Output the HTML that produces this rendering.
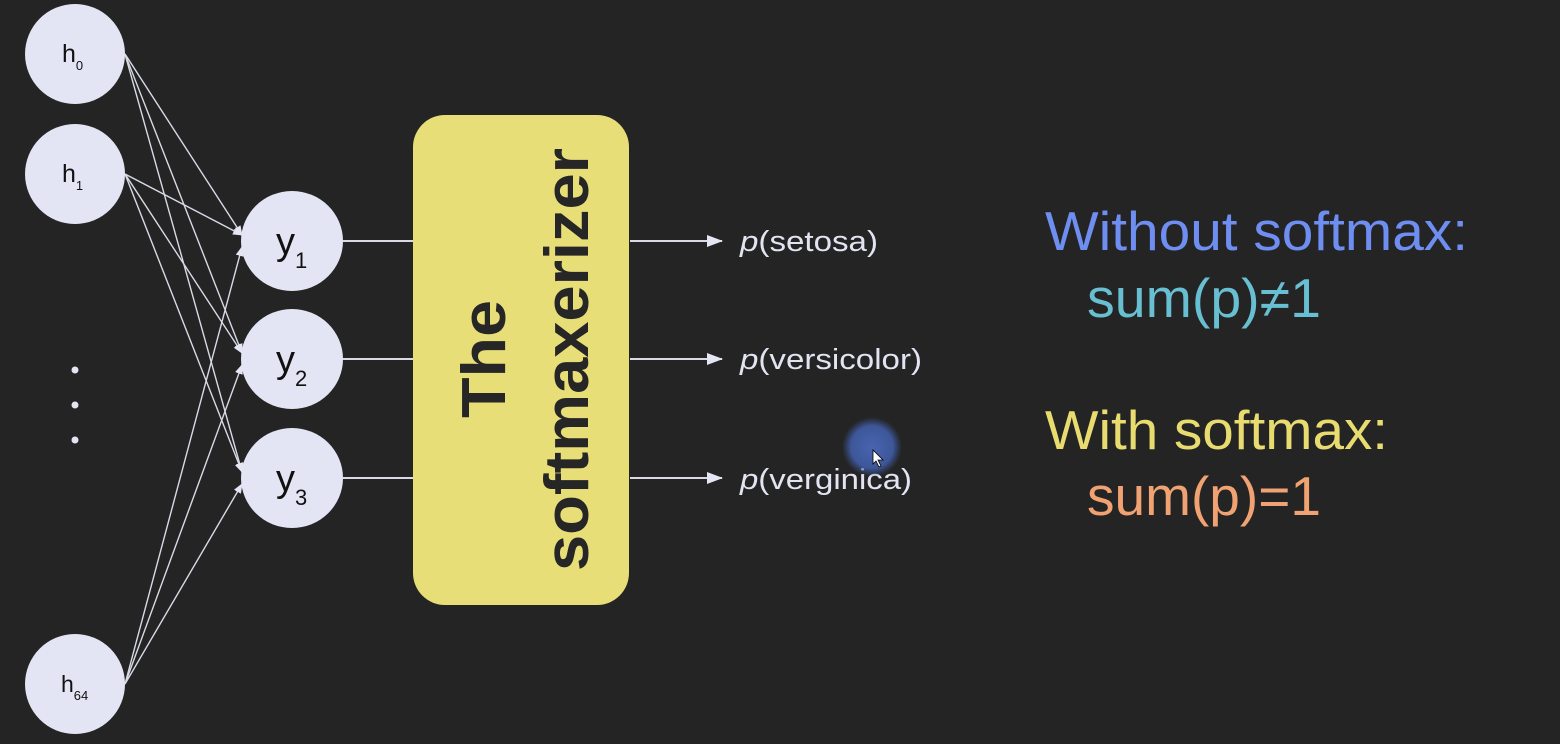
<!DOCTYPE html>
<html><head><meta charset="utf-8"><style>
html,body{margin:0;padding:0;background:#242424;}
svg{display:block;}
text{font-family:"Liberation Sans",sans-serif;}
</style></head><body>
<svg width="1560" height="744" viewBox="0 0 1560 744">
<defs>
<marker id="ah" markerWidth="10" markerHeight="8" refX="9" refY="4" orient="auto" markerUnits="userSpaceOnUse">
<path d="M0,0 L10,4 L0,8 z" fill="#e4e6f4"/></marker>
<marker id="ah2" markerWidth="16" markerHeight="12" refX="15" refY="6" orient="auto" markerUnits="userSpaceOnUse">
<path d="M0,0 L16,6 L0,12 z" fill="#e4e6f4"/></marker>
<radialGradient id="cur"><stop offset="0" stop-color="#4a68b8" stop-opacity="0.95"/><stop offset="0.7" stop-color="#4260ae" stop-opacity="0.85"/><stop offset="1" stop-color="#3a58a0" stop-opacity="0"/></radialGradient>
</defs>
<g id="edges"></g>
<g>
<ellipse cx="75" cy="54" rx="50" ry="50" fill="#e3e5f4"/>
<text x="62" y="62" font-size="25" fill="#111">h<tspan font-size="13" dy="8">0</tspan></text>
<ellipse cx="75" cy="174" rx="50" ry="50" fill="#e3e5f4"/>
<text x="62" y="182" font-size="25" fill="#111">h<tspan font-size="13" dy="8">1</tspan></text>
<ellipse cx="75" cy="684" rx="50" ry="50" fill="#e3e5f4"/>
<text x="61" y="692" font-size="23" fill="#111">h<tspan font-size="13" dy="8">64</tspan></text>
<circle cx="75" cy="370" r="3.5" fill="#e3e5f4"/>
<circle cx="75" cy="405" r="3.5" fill="#e3e5f4"/>
<circle cx="75" cy="440" r="3.5" fill="#e3e5f4"/>
</g>
<g>
<ellipse cx="292" cy="241" rx="51" ry="50" fill="#e3e5f4"/>
<text x="276" y="254" font-size="38" fill="#111">y<tspan font-size="22" dy="14">1</tspan></text>
<ellipse cx="292" cy="359" rx="51" ry="50" fill="#e3e5f4"/>
<text x="276" y="372" font-size="38" fill="#111">y<tspan font-size="22" dy="14">2</tspan></text>
<ellipse cx="292" cy="478" rx="51" ry="50" fill="#e3e5f4"/>
<text x="276" y="491" font-size="38" fill="#111">y<tspan font-size="22" dy="14">3</tspan></text>
</g>
<g stroke="#d8dae6" stroke-width="2">
<line x1="343" y1="241" x2="413" y2="241"/><line x1="343" y1="359" x2="413" y2="359"/><line x1="343" y1="478" x2="413" y2="478"/>
</g>
<rect x="413" y="115" width="216" height="490" rx="32" fill="#e8de78"/>
<text transform="translate(505,418) rotate(-90)" font-size="62" font-weight="bold" fill="#262626" textLength="118" lengthAdjust="spacingAndGlyphs">The</text>
<text transform="translate(588,571) rotate(-90)" font-size="62" font-weight="bold" fill="#262626" textLength="423" lengthAdjust="spacingAndGlyphs">softmaxerizer</text>
<g stroke="#d8dae6" stroke-width="2">
<line x1="630" y1="241" x2="722" y2="241" marker-end="url(#ah2)"/>
<line x1="630" y1="359" x2="722" y2="359" marker-end="url(#ah2)"/>
<line x1="630" y1="478" x2="722" y2="478" marker-end="url(#ah2)"/>
</g>
<g font-size="29" fill="#e2e4f2">
<text x="740" y="251" textLength="138" lengthAdjust="spacingAndGlyphs"><tspan font-style="italic">p</tspan>(setosa)</text>
<text x="740" y="369" textLength="182" lengthAdjust="spacingAndGlyphs"><tspan font-style="italic">p</tspan>(versicolor)</text>
<text x="740" y="489" textLength="172" lengthAdjust="spacingAndGlyphs"><tspan font-style="italic">p</tspan>(verginica)</text>
</g>
<circle cx="872" cy="447" r="30" fill="url(#cur)"/>
<path d="M873,450 L873,464 L876,461 L879,467 L881,466 L878,460 L883,460 z" fill="#fff" stroke="#000" stroke-width="0.8"/>
<text x="1045" y="250" font-size="55" fill="#6f8ef2" textLength="423" lengthAdjust="spacingAndGlyphs">Without softmax:</text>
<text x="1087" y="317" font-size="55" fill="#68bfd2" textLength="234" lengthAdjust="spacingAndGlyphs">sum(p)≠1</text>
<text x="1045" y="449" font-size="55" fill="#e8dc70" textLength="343" lengthAdjust="spacingAndGlyphs">With softmax:</text>
<text x="1087" y="515" font-size="55" fill="#f0a272" textLength="234" lengthAdjust="spacingAndGlyphs">sum(p)=1</text>
</svg>
<script>
const hY=[54,174,684];
const yY=[241,359,478];
const g=document.getElementById('edges');
hY.forEach(function(hy){
  yY.forEach(function(yy,j){
    const l=document.createElementNS('http://www.w3.org/2000/svg','line');
    
    
    l.setAttribute('x1',125);l.setAttribute('y1',hy);
    l.setAttribute('x2',242);l.setAttribute('y2',yy+(hy<yy?-6:6));
    l.setAttribute('stroke','#d8dae6');l.setAttribute('stroke-width','1.4');
    l.setAttribute('marker-end','url(#ah)');
    g.appendChild(l);
  });
});
</script>
</body></html>
